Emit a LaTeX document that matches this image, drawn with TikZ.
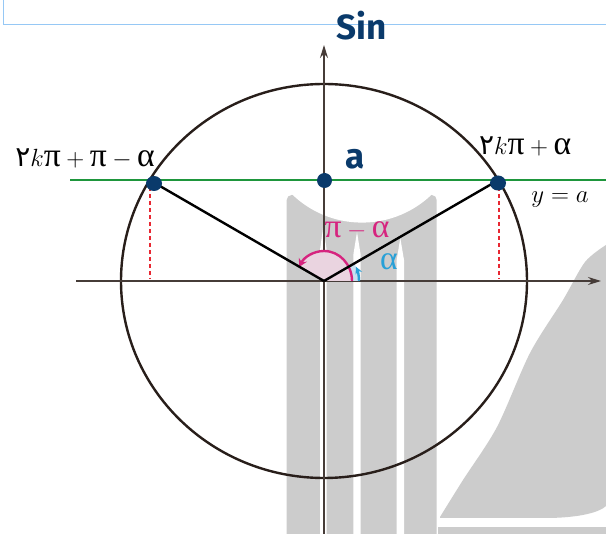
\documentclass[tikz,border=0pt]{standalone}
\usepackage{fontspec}
\newfontfamily\arabicfont[Script=Arabic]{DejaVu Sans}
\newfontfamily\handfont{Fira Sans}
\newfontfamily\grkfont[Scale=1.2]{Liberation Serif}
\usetikzlibrary{arrows.meta}
\definecolor{axisc}{RGB}{70,60,56}
\definecolor{circc}{RGB}{40,30,26}
\definecolor{wmgray}{RGB}{204,204,204}
\definecolor{greenc}{RGB}{30,150,60}
\definecolor{navyc}{RGB}{10,58,107}
\definecolor{redc}{RGB}{232,40,50}
\definecolor{magc}{RGB}{214,36,127}
\definecolor{cyanc}{RGB}{40,160,215}
\definecolor{pinkfill}{RGB}{234,212,224}
\definecolor{bluefill}{RGB}{200,225,240}
\definecolor{topblue}{RGB}{150,200,245}
\newcommand{\gk}[1]{\mbox{\grkfont #1}}
\tikzset{
  axisline/.style={draw=axisc, line width=1.4pt},
  circline/.style={draw=circc, line width=2.4pt},
  radline/.style={draw=black, line width=2.4pt},
  greenline/.style={draw=greenc, line width=2.4pt},
  reddash/.style={draw=redc, line width=2pt, dash pattern=on 4pt off 3pt},
  navydot/.style={fill=navyc, draw=none},
  lbl/.style={inner sep=0pt, font=\fontsize{28}{32}\selectfont},
  hand/.style={inner sep=0pt, text=navyc, font=\handfont\bfseries\fontsize{35}{38}\selectfont},
}
\begin{document}
\begin{tikzpicture}[x=1pt,y=-1pt]
\useasboundingbox (0,0) rectangle (606,534);
\fill[white] (0,0) rectangle (606,534);
% watermark
\begin{scope}
\clip (0,0) rectangle (606,534);
\fill[wmgray, rounded corners=5pt] (286.7,195) rectangle (436.7,560);
\fill[white] (362,122) circle[radius=100.6pt];
\fill[white] (323.3,226) -- (326.7,250) -- (326.7,534) -- (320,534) -- (320,250) -- cycle;
\fill[white] (357,232) -- (360.7,255) -- (360.7,534) -- (353.3,534) -- (353.3,255) -- cycle;
\fill[white] (400.3,238) -- (404,260) -- (404,534) -- (396.7,534) -- (396.7,260) -- cycle;
\fill[wmgray] plot[smooth] coordinates {(606,245) (585,262) (563,300) (530,353) (497,427) (463,480) (440,517)}
  -- (440,518) -- (545,518) .. controls (580,518) and (600,512) .. (606,506) -- cycle;
\fill[wmgray] (438,527) rectangle (606,534);
\end{scope}
% top light-blue frame
\coordinate (tb0) at (3,0);
\coordinate (tb1) at (3,24.5);
\coordinate (tb2) at (606,24.5);
\draw[topblue, line width=1pt] (tb0) -- (tb1) -- (tb2);
% circle
\coordinate (O) at (324,281);
\draw[circline] (O) ellipse [x radius=203pt, y radius=197pt];
% axes
\coordinate (xl) at (76,281);
\coordinate (xr) at (601,281);
\coordinate (yb) at (324,534);
\coordinate (yt) at (324,45);
\draw[axisline, -{Stealth[length=13pt,width=8pt]}] (xl) -- (xr);
\draw[axisline, -{Stealth[length=13pt,width=8pt]}] (yb) -- (yt);
% angle marks
\fill[bluefill] (O) -- ([shift={(35pt,0pt)}]O) arc[start angle=0, end angle=30, radius=35pt] -- cycle;
\fill[pinkfill] (O) -- ([shift={(28pt,0pt)}]O) arc[start angle=0, end angle=150, x radius=28pt, y radius=30pt] -- cycle;
\draw[magc, line width=2.4pt, -{Stealth[length=8pt,width=9pt]}] ([shift={(28pt,0pt)}]O) arc[start angle=0, end angle=152, x radius=28pt, y radius=30pt];
\draw[cyanc, line width=2.4pt, -{Stealth[length=7pt,width=7pt]}] ([shift={(35pt,0pt)}]O) arc[start angle=0, end angle=24, radius=35pt];
% green line
\coordinate (gl) at (70,180);
\coordinate (gr) at (606,180);
\draw[greenline] (gl) -- (gr);
% points on circle
\coordinate (P) at (149.5,180);
\coordinate (Q) at (498.5,180);
\coordinate (Pf) at (149.5,279);
\coordinate (Qf) at (498.5,279);
\draw[reddash] (P) -- (Pf);
\draw[reddash] (Q) -- (Qf);
\draw[radline] (O) -- (P);
\draw[radline] (O) -- (Q);
% dots
\coordinate (A) at (324.5,180.5);
\fill[navydot] (154,183.5) ellipse [x radius=8pt, y radius=7.5pt];
\fill[navydot] (A) circle[radius=7.5pt];
\fill[navydot] (498,183) ellipse [x radius=8pt, y radius=7.5pt];
% labels
\node[lbl, anchor=base east] (L1) at (155,167) {{\arabicfont ۲}$k\gk{π}+\gk{π}-\gk{α}$};
\node[lbl, anchor=base west] (L2) at (479,155) {{\arabicfont ۲}$k\gk{π}+\gk{α}$};
\node[lbl, anchor=base] (L3) at (560,203) {$y=a$};
\node[lbl, text=magc, anchor=base] (L4) at (357,238) {$\gk{π}-\gk{α}$};
\node[lbl, text=cyanc, anchor=base] (L5) at (389,270) {\gk{α}};
\node[hand, anchor=base] (La) at (355,169) {a};
\node[hand, anchor=base] (Ls) at (362,40) {Sin};
\end{tikzpicture}
\end{document}
